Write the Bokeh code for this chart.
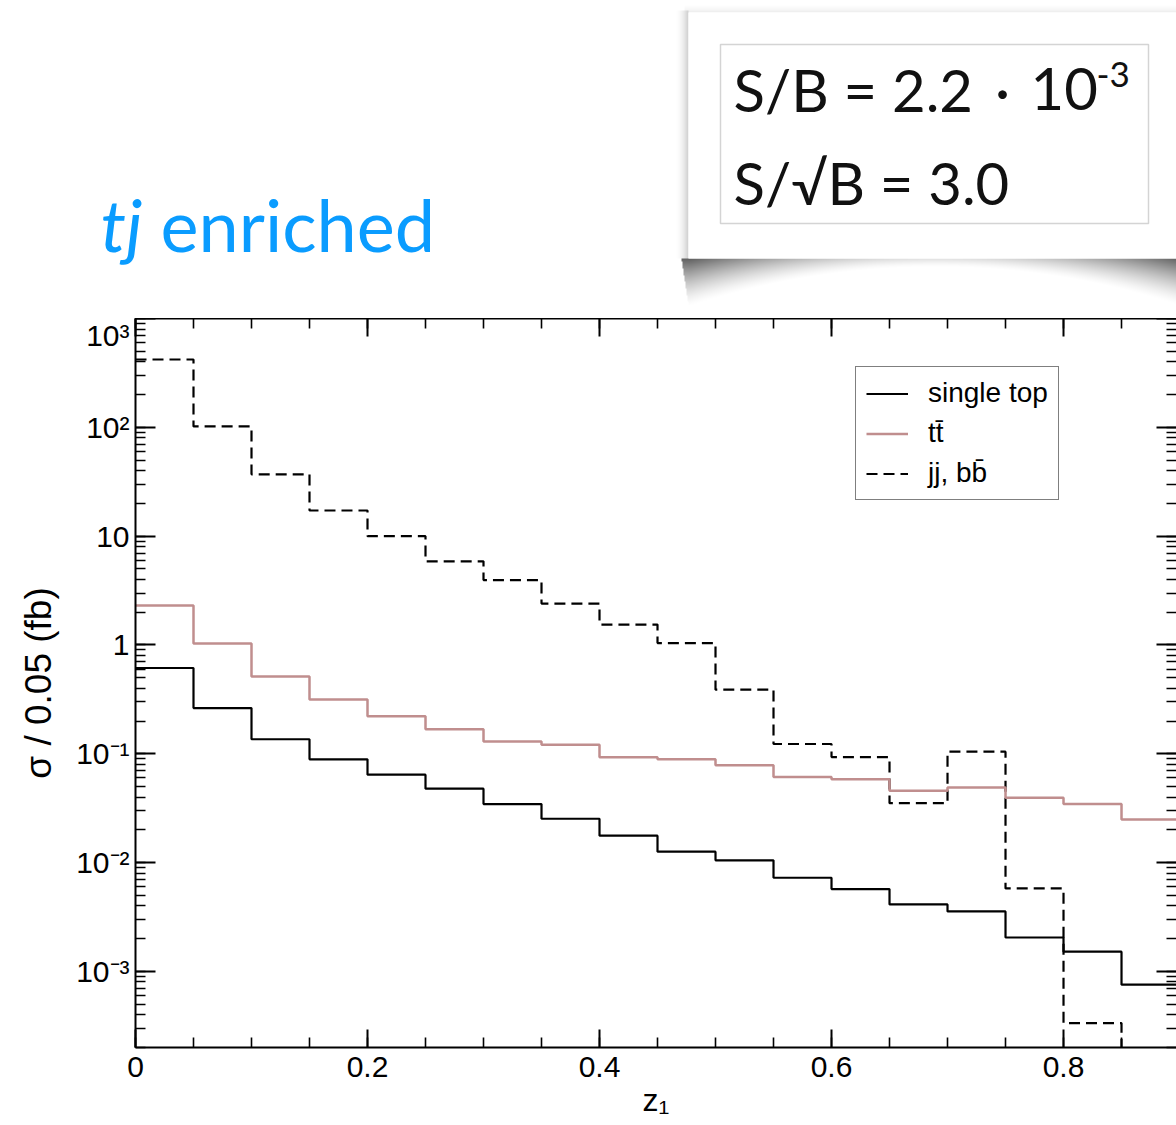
import numpy as np
from bokeh.plotting import figure
from bokeh.models import (Range1d, LinearAxis, LogAxis, SingleIntervalTicker, LogTicker,
                          CustomJSTickFormatter, Legend, LegendItem)
from bokeh.layouts import column, row
from bokeh.embed import file_html
from bokeh.resources import INLINE
from bokeh.core.properties import value

# ---------------- data (sigma / 0.05 in fb, per z1 bin) ----------------
bin_edges = [0.00, 0.05, 0.10, 0.15, 0.20, 0.25, 0.30, 0.35, 0.40, 0.45,
             0.50, 0.55, 0.60, 0.65, 0.70, 0.75, 0.80, 0.85, 0.90]
single_top = [0.614, 0.263, 0.136, 0.0889, 0.0643, 0.0478, 0.0345, 0.0253, 0.0177,
              0.0126, 0.0105, 0.00726, 0.00571, 0.00413, 0.00356, 0.00205, 0.00152, 0.000755]
ttbar = [2.31, 1.03, 0.512, 0.316, 0.221, 0.168, 0.130, 0.121, 0.0927,
         0.0889, 0.0783, 0.0611, 0.0582, 0.0458, 0.0489, 0.0395, 0.0345, 0.0249]
jj_bb = [420.0, 102.0, 37.0, 17.2, 10.0, 5.87, 3.95, 2.40, 1.54,
         1.04, 0.388, 0.123, 0.0933, 0.0352, 0.1045, 0.00579, 0.000335, 0.000001]
series_labels = ["single top", "t" + "t\u0304", "jj, b" + "b\u0304"]

AX_FONT = "Liberation Sans"
HEAD_FONT = "Lato"
X_END = 0.8974
W = 1176
HEAD_H = 318
MAIN_H = 1125 - HEAD_H

# ---------------- header (title + S/B card) ----------------
hp = figure(width=W, height=HEAD_H, x_range=Range1d(0, W), y_range=Range1d(0, HEAD_H),
            output_backend="svg", toolbar_location=None, min_border=0,
            outline_line_color=None, background_fill_color="white", border_fill_color="white")
hp.axis.visible = False
hp.grid.visible = False


def hy(page_y):
    return HEAD_H - page_y


# shadow of the card as a soft gradient image
SX0 = 668
IW = W - SX0
IH = HEAD_H
gx = SX0 + np.arange(IW) + 0.5
gy = HEAD_H - (np.arange(IH) + 0.5)
GX, GY = np.meshgrid(gx, gy)
u = np.minimum(1.0, ((GX - 935.0) / 245.0) ** 2)
depth = 9 + 40 * u
s0 = 0.13 + 0.50 * u
t = (GY - 258.0) / depth
curl = np.where((t >= 0) & (t <= 1) & (GX >= 681 + 0.15 * (GY - 258)),
                s0 * np.clip(1 - t, 0, 1) ** 1.5, 0.0)
left = np.where((GX < 688) & (GY >= 10) & (GY <= 258),
                0.20 * np.clip((GX - 673) / 15.0, 0, 1) ** 2.2, 0.0)
topsh = np.where((GY < 12) & (GX >= 684),
                 0.08 * np.clip((GY - 2) / 10.0, 0, 1) ** 2, 0.0)
alpha = np.maximum(np.maximum(curl, left), topsh)
img = np.zeros((IH, IW), dtype=np.uint32)
view = img.view(dtype=np.uint8).reshape((IH, IW, 4))
view[:, :, 0] = 0
view[:, :, 1] = 0
view[:, :, 2] = 0
view[:, :, 3] = (np.clip(alpha, 0, 1) * 255).astype(np.uint8)
hp.image_rgba(image=[img], x=SX0, y=0, dw=IW, dh=IH)

# card and inner framed box
hp.quad(left=688, right=1180, top=hy(12), bottom=hy(258), fill_color="white", line_color=None)
hp.quad(left=720, right=1148, top=hy(44), bottom=hy(223), fill_color="white",
        line_color="#d4d4d4", line_width=1.5)


def head_text(x, baseline, s, size, align="left", color="#111111", style="normal"):
    # empirical correction: glyph text lands ~0.4 em below the requested baseline
    y = hy(baseline - 0.4 * size)
    hp.text(x=[x], y=[y], text=[s], text_font=value(HEAD_FONT), text_font_size=f"{size}px",
            text_color=color, text_baseline="alphabetic", text_align=align,
            text_font_style=style)


head_text(733, 112, "S/B = 2.2", 58)
head_text(1002, 112, "\u00b7", 58, "center")
head_text(1030, 112, "10", 58)
head_text(1096, 88, "-3", 35)
head_text(733, 205, "S/\u221aB = 3.0", 58)

head_text(100, 252, "tj", 72, color="#0a9cff", style="italic")
head_text(160, 252, "enriched", 72, color="#0a9cff")

# ---------------- main plot ----------------
p = figure(width=W, height=MAIN_H, x_range=Range1d(0, X_END), y_range=Range1d(2.0e-4, 1.0e3),
           y_axis_type="log", output_backend="svg", toolbar_location=None,
           min_border_left=135, min_border_right=0, min_border_top=0, min_border_bottom=78,
           outline_line_color=None, background_fill_color="white", border_fill_color="white")
p.grid.visible = False


def step_xy(vals):
    return bin_edges, list(vals) + [vals[-1]]


x1, y1 = step_xy(jj_bb)
r_jj = p.step(x1, y1, mode="after", line_color="black", line_width=2.2, line_dash="11 6")
x2, y2 = step_xy(ttbar)
r_tt = p.step(x2, y2, mode="after", line_color="#c08e8e", line_width=2.5)
x3, y3 = step_xy(single_top)
r_st = p.step(x3, y3, mode="after", line_color="black", line_width=2.2)

xfmt = CustomJSTickFormatter(code="return tick == 0 ? '0' : tick.toFixed(1);")
yfmt = CustomJSTickFormatter(code="""
const e = Math.round(Math.log10(tick));
const sup = {'-': '\u207b', '0': '\u2070', '1': '\u00b9', '2': '\u00b2', '3': '\u00b3'};
if (e == 0) return '1';
if (e == 1) return '10';
return '10' + String(e).split('').map(c => sup[c]).join('');
""")
blank = CustomJSTickFormatter(code="return '';")


def style(ax, major_in, minor_in):
    ax.axis_line_color = "black"
    ax.axis_line_width = 2
    ax.major_tick_line_color = "black"
    ax.major_tick_line_width = 2
    ax.minor_tick_line_color = "black"
    ax.minor_tick_line_width = 1.6
    ax.major_tick_in = major_in
    ax.major_tick_out = 0
    ax.minor_tick_in = minor_in
    ax.minor_tick_out = 0


xax = p.xaxis[0]
xax.ticker = SingleIntervalTicker(interval=0.2, num_minor_ticks=4)
xax.formatter = xfmt
style(xax, 18, 10)
xax.major_label_text_font = AX_FONT
xax.major_label_text_font_size = "30px"
xax.major_label_text_color = "black"
xax.major_label_standoff = 9
xax.axis_label = "z\u2081"
xax.axis_label_text_font = AX_FONT
xax.axis_label_text_font_style = "normal"
xax.axis_label_text_font_size = "32px"
xax.axis_label_text_color = "black"
xax.axis_label_standoff = 2

yax = p.yaxis[0]
yax.ticker = LogTicker(num_minor_ticks=10)
yax.formatter = yfmt
style(yax, 20, 10)
yax.major_label_text_font = AX_FONT
yax.major_label_text_font_size = "30px"
yax.major_label_text_color = "black"
yax.major_label_standoff = 6
yax.axis_label = "\u03c3 / 0.05 (fb)"
yax.axis_label_text_font = AX_FONT
yax.axis_label_text_font_style = "normal"
yax.axis_label_text_font_size = "37px"
yax.axis_label_text_color = "black"
yax.axis_label_standoff = 14

top = LinearAxis(ticker=SingleIntervalTicker(interval=0.2, num_minor_ticks=4), formatter=blank)
style(top, 18, 10)
top.major_label_text_font_size = "0px"
top.major_label_standoff = 0
p.add_layout(top, "above")

right = LogAxis(ticker=LogTicker(num_minor_ticks=10), formatter=blank)
style(right, 20, 10)
right.axis_line_color = None
right.major_label_text_font_size = "0px"
right.major_label_standoff = 0
p.add_layout(right, "right")

legend = Legend(items=[LegendItem(label=series_labels[0], renderers=[r_st]),
                       LegendItem(label=series_labels[1], renderers=[r_tt]),
                       LegendItem(label=series_labels[2], renderers=[r_jj])],
                location=(720, 547))
legend.label_text_font = AX_FONT
legend.label_text_font_size = "28px"
legend.label_text_color = "black"
legend.glyph_width = 42
legend.glyph_height = 31
legend.label_height = 31
legend.label_standoff = 20
legend.spacing = 8
legend.padding = 10
legend.margin = 0
legend.border_line_color = "black"
legend.border_line_width = 1.5
legend.background_fill_color = "white"
legend.background_fill_alpha = 1.0
p.add_layout(legend, "center")

layout = column(row(hp), p, spacing=0)
open("out.html", "w").write(file_html(layout, INLINE))
